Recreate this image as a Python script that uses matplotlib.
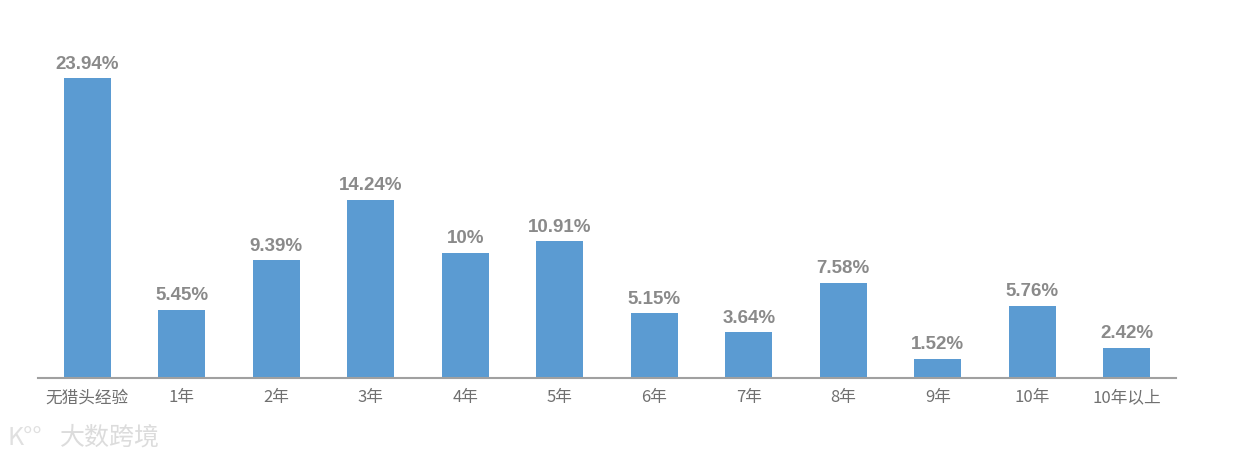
import matplotlib.pyplot as plt

plt.rcParams['font.family'] = ['Noto Sans CJK SC', 'DejaVu Sans']

categories = ['无猎头经验', '1年', '2年', '3年', '4年', '5年', '6年', '7年', '8年', '9年', '10年', '10年以上']
values = [23.94, 5.45, 9.39, 14.24, 10, 10.91, 5.15, 3.64, 7.58, 1.52, 5.76, 2.42]
labels = ['23.94%', '5.45%', '9.39%', '14.24%', '10%', '10.91%', '5.15%', '3.64%', '7.58%', '1.52%', '5.76%', '2.42%']

fig = plt.figure(figsize=(12.36, 4.68), dpi=100)
ax = fig.add_axes([38 / 1236, 90 / 468, (1176 - 38) / 1236, 378 / 468])

x = range(len(categories))
bars = ax.bar(x, values, width=0.5, color='#5b9bd2')

for b, lab in zip(bars, labels):
    ax.annotate(lab, (b.get_x() + b.get_width() / 2, b.get_height()),
                xytext=(0, 4), textcoords='offset points', ha='center', va='bottom',
                fontsize=13.5, fontweight='bold', color='#8a8a8a',
                family=['Liberation Sans', 'DejaVu Sans'])

ax.set_xlim(-0.52, len(categories) - 0.48)
ax.set_ylim(0, 30.17)
ax.set_xticks(list(x))
ax.set_xticklabels(categories, fontsize=12, color='#707070')
ax.tick_params(axis='x', length=0, pad=8)
ax.set_yticks([])
for s in ['top', 'right', 'left']:
    ax.spines[s].set_visible(False)
ax.spines['bottom'].set_color('#a0a0a0')
ax.spines['bottom'].set_linewidth(1.5)

# watermark
fig.text(8 / 1236, 1 - 438 / 468, 'K°°', fontsize=18, color='#e0e0e0', va='center')
fig.text(60 / 1236, 1 - 438 / 468, '大数跨境', fontsize=18, color='#dcdcdc', va='center')

fig.savefig('out.png', dpi=100)
